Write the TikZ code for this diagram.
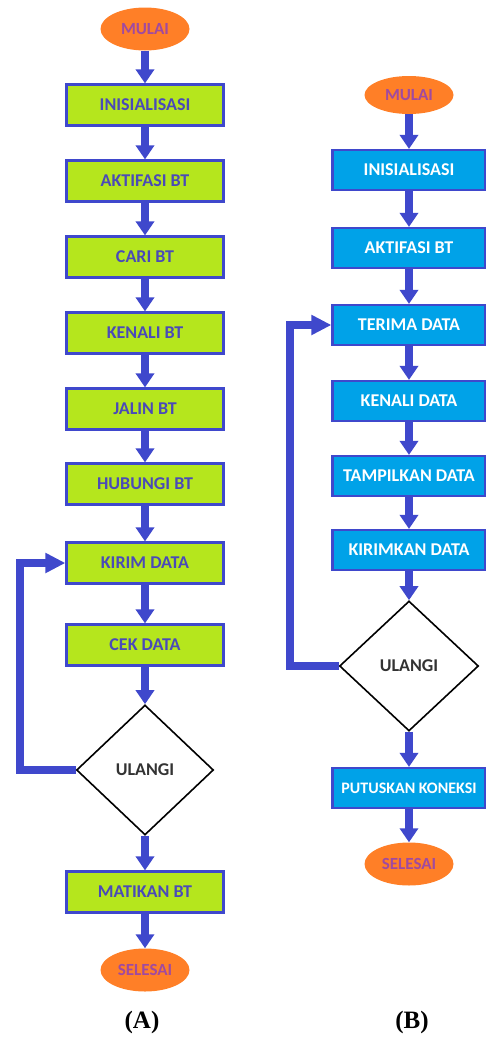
\documentclass[tikz,border=0pt]{standalone}
\usepackage{fontspec}
\setmainfont{Carlito}
\newfontfamily\lblfont{Liberation Serif}
\usetikzlibrary{shapes.geometric,arrows.meta}
\definecolor{lime}{HTML}{B5E61D}
\definecolor{cyanb}{HTML}{00A2E8}
\definecolor{arr}{HTML}{3F48CC}
\definecolor{txta}{HTML}{4A4AB8}
\definecolor{orng}{HTML}{FF7F27}
\definecolor{purp}{HTML}{A04AA0}
\tikzset{
  x=1pt,y=-1pt,
  boxa/.style={rectangle,draw=arr,line width=2.2pt,fill=lime,minimum width=157pt,minimum height=41pt,inner sep=0pt,
    font=\fontsize{18}{18}\selectfont\bfseries,text=txta},
  boxb/.style={rectangle,draw=arr,line width=2.2pt,fill=cyanb,minimum width=153pt,minimum height=40pt,inner sep=0pt,
    font=\fontsize{18}{18}\selectfont\bfseries,text=white},
  term/.style={ellipse,fill=orng,minimum width=89pt,minimum height=43pt,inner sep=0pt,
    font=\fontsize{17}{17}\selectfont\bfseries,text=purp},
  dec/.style={diamond,draw=black,line width=1.6pt,fill=white,minimum width=137pt,minimum height=130pt,inner sep=0pt,
    font=\fontsize{18}{18}\selectfont\bfseries,text=black!80},
  flow/.style={draw=arr,line width=8pt,-{Triangle[width=18pt,length=14pt]}},
  loop/.style={draw=arr,line width=8pt,line join=miter,-{Triangle[width=19pt,length=20pt]}},
  lbl/.style={font=\fontsize{25}{25}\selectfont\lblfont\bfseries}
}
\begin{document}
\begin{tikzpicture}
\useasboundingbox (0,0) rectangle (486,1044);
% column A
\node[term] (a0) at (145,29) {MULAI};
\node[boxa] (a1) at (145,105) {INISIALISASI};
\node[boxa] (a2) at (145,181) {AKTIFASI BT};
\node[boxa] (a3) at (145,257) {CARI BT};
\node[boxa] (a4) at (145,333) {KENALI BT};
\node[boxa] (a5) at (145,409) {JALIN BT};
\node[boxa] (a6) at (145,484) {HUBUNGI BT};
\node[boxa] (a7) at (145,563) {KIRIM DATA};
\node[boxa] (a8) at (145,645) {CEK DATA};
\node[dec] (a9) at (145,770) {ULANGI};
\node[boxa] (a10) at (145,892) {MATIKAN BT};
\node[term] (a11) at (145,970) {SELESAI};
\foreach \i/\j in {a0/a1,a1/a2,a2/a3,a3/a4,a4/a5,a5/a6,a6/a7,a7/a8,a8/a9,a9/a10,a10/a11}
  \draw[flow] (\i) -- (\j);
\coordinate (la1) at (20,770);
\coordinate (la2) at (20,563);
\draw[loop] (a9.west) -- (la1) -- (la2) -- (a7.west);
% column B
\node[term,minimum height=38pt] (b0) at (409,95) {MULAI};
\node[boxb] (b1) at (409,170) {INISIALISASI};
\node[boxb] (b2) at (409,248) {AKTIFASI BT};
\node[boxb] (b3) at (409,325) {TERIMA DATA};
\node[boxb] (b4) at (409,401) {KENALI DATA};
\node[boxb] (b5) at (409,476) {TAMPILKAN DATA};
\node[boxb] (b6) at (409,550) {KIRIMKAN DATA};
\node[dec,minimum width=139pt] (b7) at (409,666) {ULANGI};
\node[boxb,font=\fontsize{16}{16}\selectfont\bfseries] (b8) at (409,788) {PUTUSKAN KONEKSI};
\node[term] (b9) at (409,864) {SELESAI};
\foreach \i/\j in {b0/b1,b1/b2,b2/b3,b3/b4,b4/b5,b5/b6,b6/b7,b7/b8,b8/b9}
  \draw[flow] (\i) -- (\j);
\coordinate (lb1) at (290,666);
\coordinate (lb2) at (290,325);
\draw[loop] (b7.west) -- (lb1) -- (lb2) -- (b3.west);
% labels
\node[lbl] (la) at (142,1022) {(A)};
\node[lbl] (lb) at (412,1022) {(B)};
\end{tikzpicture}
\end{document}
